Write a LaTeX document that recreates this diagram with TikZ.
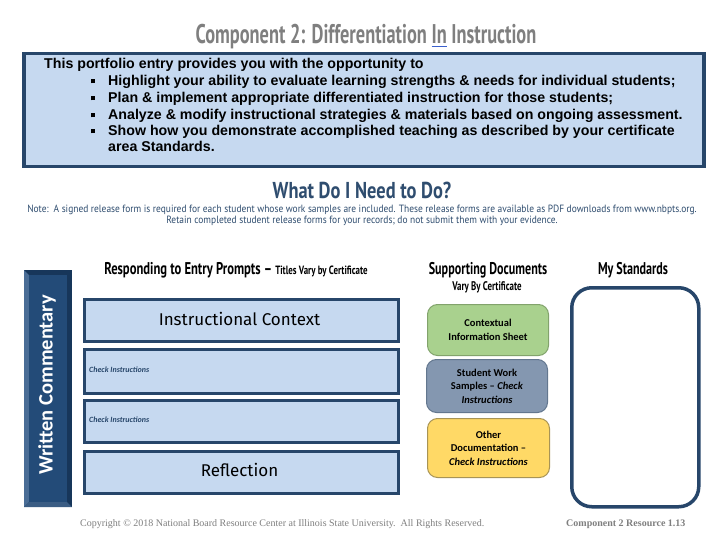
\documentclass[tikz,border=0pt]{standalone}
\usepackage{fontspec}
\setmainfont{Liberation Sans}
\newfontfamily\condfont[FakeStretch=0.68]{PT Sans}
\newfontfamily\headfont[FakeStretch=0.71]{PT Sans}
\newfontfamily\respfont[FakeStretch=0.74]{PT Sans}
\newfontfamily\whatfont[FakeStretch=0.8]{PT Sans}
\newfontfamily\notefont[FakeStretch=0.9]{PT Sans}
\newfontfamily\dinfont{Fira Sans}
\newfontfamily\calfont{Carlito}
\newfontfamily\serffont{Liberation Serif}
\definecolor{titlegray}{HTML}{7F7F7F}
\definecolor{boxblue}{HTML}{C6D9F0}
\definecolor{navy}{HTML}{27466A}
\definecolor{headblue}{HTML}{2F4D6F}
\definecolor{barface}{HTML}{234B78}
\definecolor{barlight}{HTML}{4A6D96}
\definecolor{bardark}{HTML}{17365A}
\definecolor{docgreen}{HTML}{A9D18E}
\definecolor{docgreenb}{HTML}{82A36C}
\definecolor{docblue}{HTML}{8497B0}
\definecolor{docblueb}{HTML}{63778F}
\definecolor{docyellow}{HTML}{FFD966}
\definecolor{docyellowb}{HTML}{A89455}
\definecolor{linkblue}{HTML}{3A5FCD}
\newcommand{\linkul}[1]{{\setbox0\hbox{#1}\rlap{\color{linkblue}\rule[-3.5pt]{\wd0}{1.3pt}}\box0}}
\newcommand{\sqbul}{\rule[2.5pt]{4pt}{4pt}}
\tikzset{
  promptbox/.style={draw=navy, line width=3pt, fill=boxblue},
  docbox/.style={rounded corners=10pt, line width=1pt},
  doctext/.style={font=\calfont\bfseries\fontsize{10.5}{13.5}\selectfont, align=center, text=black},
  bodyline/.style={anchor=base west, font=\bfseries\fontsize{14.2}{16}\selectfont, inner sep=0},
  bul/.style={anchor=base west, inner sep=0},
  heads/.style={anchor=base, font=\headfont\bfseries\fontsize{17}{19}\selectfont, inner sep=0},
  checkinst/.style={anchor=base west, font=\calfont\bfseries\itshape\fontsize{8}{9}\selectfont, text=navy, inner sep=0},
  foot/.style={anchor=base west, font=\serffont\fontsize{10}{12}\selectfont, text=titlegray, inner sep=0}
}
\begin{document}
\begin{tikzpicture}[x=1pt,y=-1pt]
\useasboundingbox (0,0) rectangle (720,540);
\fill[white] (0,0) rectangle (720,540);

% title
\node[anchor=base, inner sep=0, text=titlegray, font=\condfont\bfseries\fontsize{27}{30}\selectfont] (title) at (366,44)
  {Component 2: Differentiation \linkul{In} Instruction};

% top box
\node[draw=navy, line width=3.5pt, fill=boxblue, minimum width=680pt, minimum height=113pt, anchor=north west, inner sep=0] (topbox) at (22,52) {};
\node[bodyline] (l0) at (44,69) {This portfolio entry provides you with the opportunity to};
\foreach \yy/\tx in {86/{Highlight your ability to evaluate learning strengths \& needs for individual students;},
                     103/{Plan \& implement appropriate differentiated instruction for those students;},
                     120/{Analyze \& modify instructional strategies \& materials based on ongoing assessment.},
                     136/{Show how you demonstrate accomplished teaching as described by your certificate}}{
  \node[bul] at (91,\yy) {\sqbul};
  \node[bodyline] at (108,\yy) {\tx};
}
\node[bodyline] (l5) at (108,152) {area Standards.};

% what do I need
\node[anchor=base, inner sep=0, text=headblue, font=\whatfont\bfseries\fontsize{23}{26}\selectfont] (what) at (362,199) {What Do I Need to Do?};
\node[anchor=base, inner sep=0, text=headblue, font=\notefont\fontsize{10.5}{12}\selectfont] (note1) at (362,213)
  {Note:\ \ A signed release form is required for each student whose work samples are included. These release forms are available as PDF downloads from www.nbpts.org.};
\node[anchor=base, inner sep=0, text=headblue, font=\notefont\fontsize{10.5}{12}\selectfont] (note2) at (362,223.5)
  {Retain completed student release forms for your records; do not submit them with your evidence.};

% column heads
\node[heads, font=\respfont\bfseries\fontsize{17}{19}\selectfont] (resp) at (236,274) {Responding to Entry Prompts \textendash\ {\fontsize{12}{14}\selectfont Titles Vary by Certificate}};
\node[heads] (supp) at (488,274) {Supporting Documents};
\node[heads, font=\headfont\bfseries\fontsize{12.5}{14}\selectfont] (vary) at (487,290) {Vary By Certificate};
\node[heads] (mystd) at (633,274) {My Standards};

% written commentary bar
\fill[bardark] (24,270) rectangle (72,507);
\fill[barlight] (24,270) -- (24,507) -- (29,502) -- (29,275) -- cycle;
\fill[barlight!70!bardark] (24,507) -- (72,507) -- (67,502) -- (29,502) -- cycle;
\fill[barface] (29,275) rectangle (67,502);
\node[rotate=90, text=white, font=\calfont\bfseries\fontsize{20.5}{22}\selectfont, inner sep=0] (wc) at (47,385) {Written Commentary};

% prompt boxes
\node[promptbox, minimum width=314pt, minimum height=42pt, anchor=north west, inner sep=0] (b1) at (83,298) {};
\node[anchor=base, inner sep=0, font=\dinfont\fontsize{17}{20}\selectfont] at (239.5,325) {Instructional Context};
\node[promptbox, minimum width=314pt, minimum height=44pt, anchor=north west, inner sep=0] (b2) at (83,348) {};
\node[checkinst] at (89,372) {Check Instructions};
\node[promptbox, minimum width=314pt, minimum height=42pt, anchor=north west, inner sep=0] (b3) at (83,399) {};
\node[checkinst] at (89,422) {Check Instructions};
\node[promptbox, minimum width=314pt, minimum height=42pt, anchor=north west, inner sep=0] (b4) at (83,450) {};
\node[anchor=base, inner sep=0, font=\dinfont\fontsize{17}{20}\selectfont] at (239.5,476) {Reflection};

% supporting documents
\node[docbox, draw=docgreenb, fill=docgreen, minimum width=121pt, minimum height=51pt, anchor=north west, inner sep=0] (d1) at (427,304) {};
\node[doctext] at (d1.center) {Contextual\\Information Sheet};
\node[docbox, draw=docblueb, fill=docblue, minimum width=121pt, minimum height=53pt, anchor=north west, inner sep=0] (d2) at (426,359) {};
\node[doctext] at (d2.center) {Student Work\\Samples \textendash\ \textit{Check}\\\textit{Instructions}};
\node[docbox, draw=docyellowb, fill=docyellow, minimum width=122pt, minimum height=59pt, anchor=north west, inner sep=0] (d3) at (427,418) {};
\node[doctext] at (d3.center) {Other\\Documentation \textendash\\\textit{Check Instructions}};

% standards box
\node[draw=navy, line width=3.5pt, fill=white, rounded corners=20pt, minimum width=127pt, minimum height=219pt, anchor=north west, inner sep=0] (std) at (570,286) {};

% footer
\node[foot] (copy) at (80,526) {Copyright \textcopyright\ 2018 National Board Resource Center at Illinois State University.\ \ All Rights Reserved.};
\node[foot, font=\serffont\bfseries\fontsize{10}{12}\selectfont] (res) at (566,526) {Component 2 Resource 1.13};
\end{tikzpicture}
\end{document}
